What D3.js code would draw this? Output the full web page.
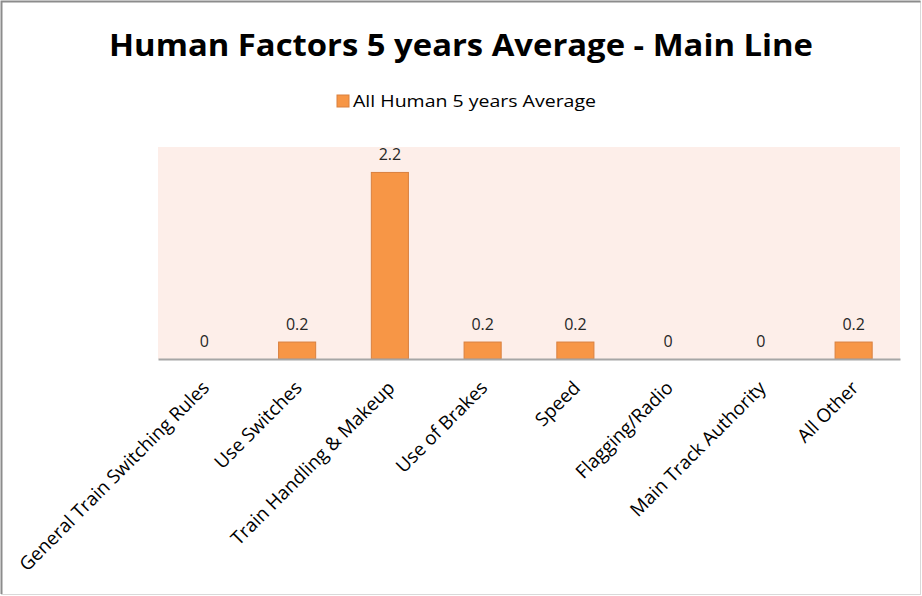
<!DOCTYPE html>
<html>
<head>
<meta charset="utf-8">
<script src="https://cdn.jsdelivr.net/npm/d3@7"></script>
<style>
  body { margin: 0; background: #fff; }
  text { font-family: "Open Sans", "Liberation Sans", sans-serif; }
</style>
</head>
<body>
<svg width="922" height="596"></svg>
<script>
let categories = [
  "General Train Switching Rules",
  "Use Switches",
  "Train Handling & Makeup",
  "Use of Brakes",
  "Speed",
  "Flagging/Radio",
  "Main Track Authority",
  "All Other"
];
let values = [0, 0.2, 2.2, 0.2, 0.2, 0, 0, 0.2];
let seriesName = "All Human 5 years Average";
let title = "Human Factors 5 years Average - Main Line";

let width = 922;
let height = 596;
let plot = { left: 158, right: 900, top: 147, bottom: 359 };

let svg = d3.select("svg");

// outer chart border
svg.append("rect")
  .attr("x", 1.5).attr("y", 1.5)
  .attr("width", width - 3).attr("height", height - 3)
  .attr("fill", "#fff")
  .attr("stroke", "#d9d9d9");
svg.append("path")
  .attr("d", `M1.5,${height - 2}V1.5H${width - 1.5}`)
  .attr("fill", "none")
  .attr("stroke", "#8c8c8c")
  .attr("stroke-width", 2);

let xScale = d3.scaleBand()
  .domain(categories)
  .range([plot.left, plot.right])
  .paddingInner(0.6)
  .paddingOuter(0.3);

let yScale = d3.scaleLinear().domain([0, 2.5]).range([plot.bottom, plot.top]);

// plot background
svg.append("rect")
  .attr("x", plot.left).attr("y", plot.top)
  .attr("width", plot.right - plot.left)
  .attr("height", plot.bottom - plot.top)
  .attr("fill", "#fdeee9");

svg.selectAll("rect.bar")
  .data(values)
  .enter()
  .append("rect")
  .attr("class", "bar")
  .attr("x", (d, i) => xScale(categories[i]))
  .attr("width", xScale.bandwidth())
  .attr("y", (d) => yScale(d))
  .attr("height", (d) => yScale(0) - yScale(d))
  .attr("fill", "#f79646")
  .attr("stroke", (d) => d > 0 ? "#d9803f" : "none");

// value labels
svg.selectAll("text.val")
  .data(values)
  .enter()
  .append("text")
  .attr("class", "val")
  .attr("x", (d, i) => xScale(categories[i]) + xScale.bandwidth() / 2)
  .attr("y", (d) => yScale(d) - 12)
  .attr("text-anchor", "middle")
  .attr("font-size", 16)
  .attr("fill", "#262626")
  .text((d) => d);

// x axis
let xAxis = d3.axisBottom(xScale).tickSize(0).tickPadding(0);
let gx = svg.append("g")
  .attr("transform", `translate(0,${plot.bottom})`)
  .call(xAxis);
gx.select(".domain").attr("stroke", "#a6a6a6").attr("stroke-width", 2);
gx.selectAll("text")
  .attr("font-size", 18.8)
  .attr("fill", "#000")
  .attr("text-anchor", "end")
  .attr("dy", null)
  .attr("transform", "translate(6,30) rotate(-45)");

// title
svg.append("text")
  .attr("x", width / 2)
  .attr("y", 56)
  .attr("text-anchor", "middle")
  .attr("font-size", 31)
  .attr("font-weight", "bold")
  .attr("textLength", 704)
  .attr("lengthAdjust", "spacingAndGlyphs")
  .attr("fill", "#000")
  .text(title);

// legend
let legend = svg.append("g").attr("transform", "translate(337,95)");
legend.append("rect")
  .attr("width", 12).attr("height", 12)
  .attr("fill", "#f79646")
  .attr("stroke", "#d9803f");
legend.append("text")
  .attr("x", 16).attr("y", 12)
  .attr("font-size", 16)
  .attr("textLength", 243)
  .attr("lengthAdjust", "spacingAndGlyphs")
  .attr("fill", "#000")
  .text(seriesName);
</script>
</body>
</html>
